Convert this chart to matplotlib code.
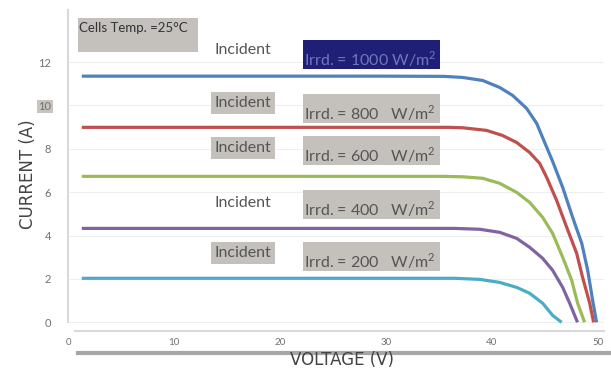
import matplotlib
matplotlib.use("Agg")
import matplotlib.pyplot as plt
from matplotlib.lines import Line2D
from matplotlib.patches import Rectangle

# ---- data ----
v_1000 = [1.3, 30, 35.5, 37.26, 39.15, 40.75, 41.98, 43.30, 44.25, 45.0, 45.75,
          46.7, 47.64, 48.5, 49.06, 49.53, 49.9]
i_1000 = [11.35, 11.35, 11.34, 11.29, 11.15, 10.83, 10.46, 9.86, 9.17, 8.29, 7.42,
          6.22, 4.84, 3.64, 2.40, 1.01, 0]

v_800 = [1.3, 30, 36.0, 37.26, 39.5, 41.0, 42.36, 43.58, 44.53, 45.19, 46.13,
         47.08, 48.02, 48.58, 49.25, 49.62]
i_800 = [8.99, 8.99, 8.99, 8.97, 8.85, 8.62, 8.29, 7.83, 7.33, 6.68, 5.62,
         4.38, 3.18, 2.07, 0.88, 0]

v_600 = [1.3, 30, 35.5, 37.26, 39.15, 40.75, 42.36, 43.58, 44.81, 45.75, 46.7,
         47.55, 48.11, 48.77]
i_600 = [6.73, 6.73, 6.73, 6.71, 6.64, 6.41, 5.99, 5.53, 4.84, 4.1, 3.0,
         1.94, 0.88, 0]

v_400 = [1.3, 30, 36.5, 38.87, 40.75, 42.36, 43.58, 44.81, 45.75, 46.7, 47.36, 48.1]
i_400 = [4.33, 4.33, 4.33, 4.29, 4.15, 3.87, 3.46, 2.95, 2.40, 1.61, 0.88, 0]

v_200 = [1.3, 30, 36.5, 38.87, 40.75, 42.36, 43.58, 44.81, 45.75, 46.6]
i_200 = [2.03, 2.03, 2.03, 1.98, 1.84, 1.61, 1.34, 0.88, 0.32, 0]

irradiance_labels = ["Irrd. = 1000 W/m$^2$", "Irrd. = 800   W/m$^2$",
                     "Irrd. = 600   W/m$^2$", "Irrd. = 400   W/m$^2$",
                     "Irrd. = 200   W/m$^2$"]
x_ticks = [0, 10, 20, 30, 40, 50]
y_ticks = [0, 2, 4, 6, 8, 10, 12]
temp_label = "Cells Temp. =25°C"

series = [(v_1000, i_1000, "#4f81bd"), (v_800, i_800, "#c0504d"),
          (v_600, i_600, "#9bbb59"), (v_400, i_400, "#8064a2"),
          (v_200, i_200, "#4bacc6")]

plt.rcParams['font.family'] = ['Lato', 'DejaVu Sans']
plt.rcParams['mathtext.fontset'] = 'custom'
plt.rcParams['mathtext.rm'] = 'Lato'

W, H = 611, 368
fig = plt.figure(figsize=(W / 100, H / 100), dpi=100)
ax = fig.add_axes([68 / W, 1 - 331 / H, 536 / W, 321 / H])
ax.set_xlim(0, 50.6)
ax.set_ylim(-0.4, 14.4)

for vx, iy, c in series:
    ax.plot(vx, iy, color=c, lw=2.3, solid_capstyle='butt', solid_joinstyle='round')

for s in ['top', 'right']:
    ax.spines[s].set_visible(False)
ax.spines['left'].set_color('#d9d9d9')
ax.spines['left'].set_linewidth(1.5)
ax.spines['left'].set_bounds(0, 14.4)
ax.spines['bottom'].set_color('#d9d9d9')
ax.spines['bottom'].set_linewidth(1.5)
ax.spines['bottom'].set_bounds(0.7, 50.6)

ax.set_xticks(x_ticks)
ax.set_yticks(y_ticks)
ax.tick_params(length=0, labelcolor='#707070')
ax.tick_params(axis='x', pad=5, labelsize=7)
ax.tick_params(axis='y', pad=12, labelsize=8)
ax.grid(axis='y', color='#efefef', lw=0.8)
ax.set_axisbelow(True)

for lab in ax.get_yticklabels():
    if lab.get_text() == "10":
        lab.set_bbox(dict(facecolor='#c8c4c0', edgecolor='none', pad=1.0))

# thick decorative bar under x tick labels
fig.add_artist(Line2D([78 / W, 1.0], [1 - 353 / H] * 2, color='#a6a6a6', lw=3))

fig.text(342 / W, 1 - 360 / H, "VOLTAGE (V)", ha='center', va='center',
         fontsize=12, color='#444444', family='DejaVu Sans')
fig.text(28 / W, 1 - 174 / H, "CURRENT (A)", ha='center', va='center',
         rotation=90, fontsize=12, color='#444444', family='DejaVu Sans')

# helpers: pixel -> data
def px2v(x):
    return (x - 68) / 10.6

def py2i(y):
    return (331 - y) / 321 * 14.8 - 0.4

# temperature box
ax.add_patch(Rectangle((px2v(78), py2i(52)), px2v(198) - px2v(78),
                       py2i(18) - py2i(52), facecolor='#c4c0bc',
                       edgecolor='none', clip_on=False, zorder=3))
ax.text(px2v(79), py2i(28), temp_label, fontsize=9.5, color='#333333',
        ha='left', va='center', zorder=4)

incident_y = [50, 103, 148, 203, 253]
incident_bg = [False, True, True, False, True]
box_top = [40, 94, 136, 190, 242]
for k, lab in enumerate(irradiance_labels):
    bbox = dict(facecolor='#c4c0bc', edgecolor='none', pad=2.5) if incident_bg[k] else None
    ax.text(px2v(243), py2i(incident_y[k]), "Incident", ha='center', va='center',
            fontsize=11.5, color='#555555', bbox=bbox, zorder=4)
    fc = '#1f1f78' if k == 0 else '#c4c0bc'
    tc = '#6f78b8' if k == 0 else '#555555'
    ax.add_patch(Rectangle((px2v(303), py2i(box_top[k] + 29)),
                           px2v(440) - px2v(303), py2i(box_top[k]) - py2i(box_top[k] + 29),
                           facecolor=fc, edgecolor='none', zorder=3))
    ax.text(px2v(304), py2i(box_top[k] + 19), lab, ha='left', va='center',
            fontsize=11.5, color=tc, zorder=4)

fig.savefig("out.png", dpi=100)
